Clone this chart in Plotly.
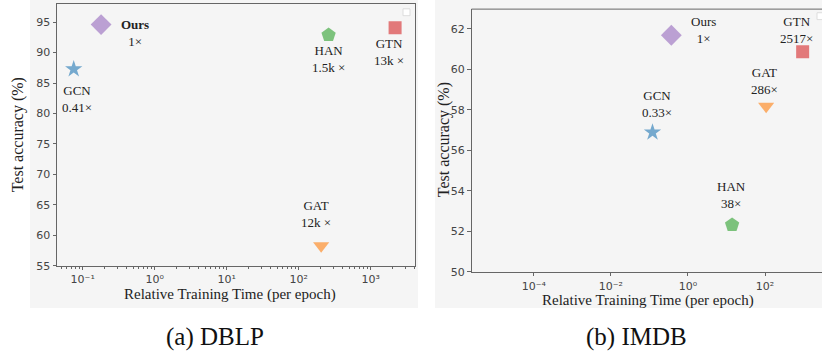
import math
import plotly.graph_objects as go

# ---------------- data ----------------
methods = ["Ours", "GCN", "HAN", "GTN", "GAT"]
symbols = ["diamond", "star", "pentagon", "square", "triangle-down"]
colors = ["#9467bd", "#1f77b4", "#2ca02c", "#d62728", "#ff7f0e"]
sizes = [16, 13, 15, 13, 14]

dblp_time = [0.18, 0.075, 260, 2180, 205]
dblp_acc = [94.6, 87.3, 92.9, 94.1, 58.3]
dblp_ratio = ["1×", "0.41×", "1.5k ×", "13k ×", "12k ×"]

imdb_time = [0.37, 0.12, 14, 950, 107]
imdb_acc = [61.68, 56.89, 52.32, 60.87, 58.18]
imdb_ratio = ["1×", "0.33×", "38×", "2517×", "286×"]

dblp_xticks = [0.1, 1, 10, 100, 1000]
dblp_xticktext = ["10⁻¹", "10⁰", "10¹", "10²", "10³"]
imdb_xticks = [1e-4, 1e-2, 1, 100]
imdb_xticktext = ["10⁻⁴", "10⁻²", "10⁰", "10²"]
dblp_yticks = [55, 60, 65, 70, 75, 80, 85, 90, 95]
imdb_yticks = [50, 52, 54, 56, 58, 60, 62]
dblp_minor = [m * 10 ** e for e in range(-2, 4) for m in range(2, 10)]

# label offsets in pixels (label centre relative to marker, +down)
dblp_label_off = [(34, 8), (3, 30), (0, 24), (-6, 24), (-5, -32)]
imdb_label_off = [(32, -5), (4, -28), (-1, -30), (-6, -22), (-2, -25)]

SERIF = "Liberation Serif, Times New Roman, serif"
SANS = "DejaVu Sans, sans-serif"
W, H = 822, 360

fig = go.Figure()

for i, m in enumerate(methods):
    fig.add_trace(go.Scatter(
        x=[dblp_time[i]], y=[dblp_acc[i]], mode="markers", xaxis="x", yaxis="y",
        marker=dict(symbol=symbols[i], size=sizes[i], color=colors[i], opacity=0.6,
                    line=dict(width=0)),
        showlegend=False, name=m))
    fig.add_trace(go.Scatter(
        x=[imdb_time[i]], y=[imdb_acc[i]], mode="markers", xaxis="x2", yaxis="y2",
        marker=dict(symbol=symbols[i], size=sizes[i], color=colors[i], opacity=0.6,
                    line=dict(width=0)),
        showlegend=False, name=m))

annotations = []
for i, m in enumerate(methods):
    name = "<b>Ours</b>" if m == "Ours" else m
    dx, dy = dblp_label_off[i]
    annotations.append(dict(
        x=math.log10(dblp_time[i]), y=dblp_acc[i], xref="x", yref="y",
        text=name + "<br>" + dblp_ratio[i], showarrow=False, xshift=dx, yshift=-dy,
        xanchor="center", yanchor="middle",
        font=dict(family=SERIF, size=13, color="#222"), align="center"))
    dx, dy = imdb_label_off[i]
    annotations.append(dict(
        x=math.log10(imdb_time[i]), y=imdb_acc[i], xref="x2", yref="y2",
        text=m + "<br>" + imdb_ratio[i], showarrow=False, xshift=dx, yshift=-dy,
        xanchor="center", yanchor="middle",
        font=dict(family=SERIF, size=13, color="#222"), align="center"))

paper_texts = [
    (230, 300, "Relative Training Time (per epoch)", 0, 15, "#222"),
    (648, 306, "Relative Training Time (per epoch)", 0, 15, "#222"),
    (18, 138, "Test accuracy (%)", -90, 16, "#222"),
    (444, 143, "Test accuracy (%)", -90, 16, "#222"),
    (215, 344, "(a) DBLP", 0, 25, "#111"),
    (636, 344, "(b) IMDB", 0, 25, "#111"),
]
for (px, py, t, ang, fs, c) in paper_texts:
    annotations.append(dict(
        x=px / W, y=1 - py / H, xref="paper", yref="paper", text=t, textangle=ang,
        showarrow=False, xanchor="center", yanchor="middle",
        font=dict(family=SERIF, size=fs, color=c)))

shapes = [
    # light grey panel backgrounds
    dict(type="rect", xref="paper", yref="paper", x0=30 / W, x1=418 / W, y0=1 - 314 / H, y1=1,
         fillcolor="#f5f5f5", line=dict(width=0), layer="below"),
    dict(type="rect", xref="paper", yref="paper", x0=435 / W, x1=1, y0=1 - 314 / H, y1=1,
         fillcolor="#f5f5f5", line=dict(width=0), layer="below"),
    # top border of right panel
    dict(type="line", xref="paper", yref="paper", x0=471.5 / W, x1=1, y0=1 - 9.3 / H, y1=1 - 9.3 / H,
         line=dict(color="#666", width=1)),
    # empty legend boxes
    dict(type="rect", xref="paper", yref="paper", x0=403 / W, x1=410 / W, y0=1 - 16 / H, y1=1 - 9 / H,
         line=dict(color="#ddd", width=1), fillcolor="white"),
    dict(type="rect", xref="paper", yref="paper", x0=817 / W, x1=824 / W, y0=1 - 20 / H, y1=1 - 13 / H,
         line=dict(color="#ddd", width=1), fillcolor="white"),
]

axis_common = dict(showgrid=False, zeroline=False, showline=True, linecolor="#666", linewidth=1,
                   ticks="outside", ticklen=3.5, tickcolor="#666",
                   tickfont=dict(family=SANS, size=11, color="#444"))

fig.update_layout(
    width=W, height=H, margin=dict(l=0, r=0, t=0, b=0),
    paper_bgcolor="white", plot_bgcolor="white",
    showlegend=False,
    xaxis=dict(domain=[57 / W, 415 / W], type="log", range=[-1.357, 3.615], anchor="y",
               tickmode="array", tickvals=dblp_xticks, ticktext=dblp_xticktext, mirror=True,
               minor=dict(tickmode="array", tickvals=dblp_minor, ticks="outside", ticklen=2,
                          tickcolor="#666", showgrid=False),
               **axis_common),
    yaxis=dict(domain=[1 - 271 / H, 1 - 4 / H], range=[55, 98], anchor="x",
               tickmode="array", tickvals=dblp_yticks, mirror=True, **axis_common),
    xaxis2=dict(domain=[471.5 / W, 1], type="log", range=[-5.62, 3.48], anchor="y2",
                tickmode="array", tickvals=imdb_xticks, ticktext=imdb_xticktext, mirror=False,
                **axis_common),
    yaxis2=dict(domain=[1 - 277.3 / H, 1 - 9.3 / H], range=[50, 62.97], anchor="x2",
                tickmode="array", tickvals=imdb_yticks, mirror=False, **axis_common),
    annotations=annotations, shapes=shapes,
)

fig.write_html("out.html", config={"displayModeBar": False},
               post_script="document.body.style.margin='0';document.body.style.overflow='hidden';")
